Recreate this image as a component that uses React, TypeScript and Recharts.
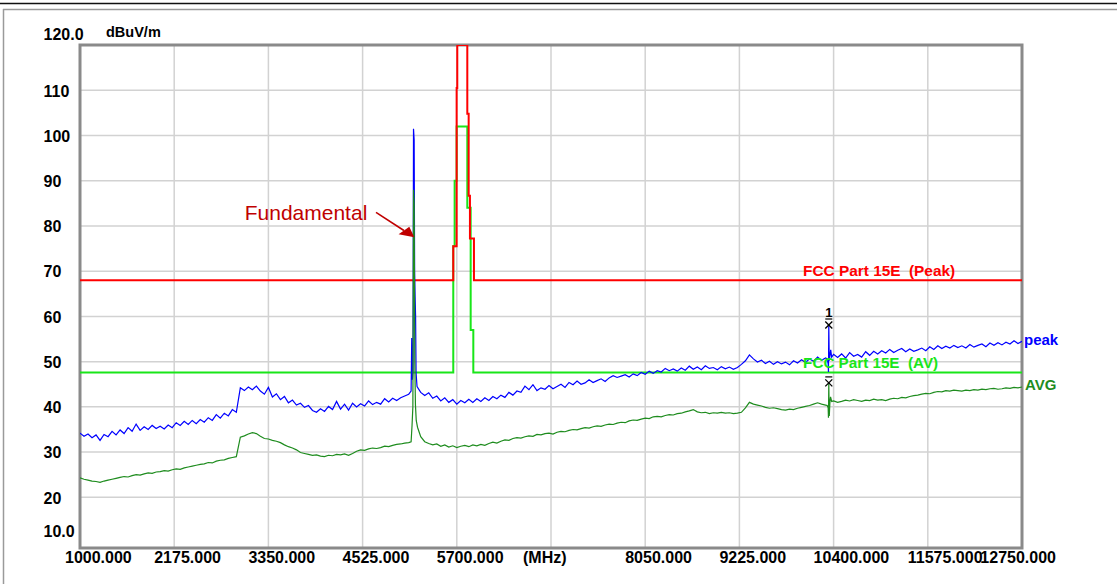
import React from 'react';
import { LineChart, Line, XAxis, YAxis, CartesianGrid, ReferenceArea, ReferenceDot } from 'recharts';

// ---------- data ----------
const FREQ_START = 1000; // MHz
const FREQ_STEP = 50; // MHz between trace samples
const X_MIN = 1000;
const X_MAX = 12750;
const Y_MIN = 8.8;
const Y_MAX = 120;

const X_TICKS = [1000, 2175, 3350, 4525, 5700, 6875, 8050, 9225, 10400, 11575, 12750];
const X_TICK_LABELS = ['1000.000', '2175.000', '3350.000', '4525.000', '5700.000', '(MHz)', '8050.000', '9225.000', '10400.000', '11575.000', '12750.000'];
const Y_TICKS = [10, 20, 30, 40, 50, 60, 70, 80, 90, 100, 110, 120];
const Y_TICK_LABELS = ['10.0', '20', '30', '40', '50', '60', '70', '80', '90', '100', '110', '120.0'];
const Y_UNIT = 'dBuV/m';

// peak detector trace, one value per 50 MHz from 1000 MHz
const PEAK_VALUES = [
  34.2, 33.5, 34.0, 33.2, 33.8, 32.6, 33.9, 33.4, 34.6, 33.8,
  34.9, 34.1, 35.4, 34.6, 36.2, 34.8, 35.6, 35.0, 35.9, 35.2,
  35.7, 35.1, 36.0, 35.4, 36.5, 35.9, 36.8, 36.1, 37.0, 36.3,
  37.2, 36.6, 37.6, 37.0, 38.3, 37.5, 38.6, 38.0, 39.4, 38.8,
  44.2, 43.6, 44.4, 43.8, 44.6, 43.5, 42.8, 44.3, 42.2, 42.9,
  41.6, 42.3, 40.9, 41.5, 40.4, 40.8, 39.9, 40.3, 39.2, 38.8,
  39.6, 39.0, 40.1, 39.4, 41.2, 39.5, 40.6, 39.3, 40.8, 40.0,
  40.7, 40.2, 41.3, 40.5, 41.0, 40.6, 41.8, 41.1, 41.9, 41.4,
  42.0, 42.4, 42.8, 43.5, 44.0, 43.2, 42.5, 43.1, 41.9, 42.4,
  41.3, 42.0, 41.0, 41.6, 40.6, 41.4, 40.9, 41.7, 41.0, 41.8,
  41.2, 42.0, 41.4, 42.3, 41.8, 42.6, 42.1, 43.2, 42.6, 43.5,
  43.2, 44.6, 43.8, 44.9, 43.6, 44.2, 43.9, 44.7, 44.0, 44.5,
  45.0, 44.3, 45.4, 44.9, 45.7, 45.0, 45.3, 46.0, 45.4, 45.8,
  46.2, 45.6, 46.4, 46.9, 46.5, 46.8, 47.1, 46.6, 47.3, 46.9,
  47.6, 47.2, 47.9, 47.4, 48.0, 47.7, 48.5, 48.0, 48.4, 47.9,
  48.6, 48.1, 49.0, 48.3, 48.8, 48.2, 49.1, 48.5, 48.7, 48.2,
  48.9, 48.4, 48.8, 48.3, 48.7, 49.4, 50.2, 51.5, 50.6, 49.9,
  50.3, 49.6, 50.1, 49.4, 50.0, 49.5, 49.9, 49.3, 50.2, 49.7,
  50.4, 49.8, 50.6, 50.1, 51.0, 50.3, 50.8, 51.2, 51.6, 50.9,
  51.7, 50.8, 52.0, 51.2, 51.6, 51.0, 52.2, 51.4, 52.3, 51.7,
  52.4, 51.9, 52.7, 52.0, 52.5, 52.9, 52.2, 52.8, 52.3, 52.6,
  53.0, 52.4, 53.3, 52.7, 53.5, 52.9, 53.4, 53.0, 53.6, 53.1,
  53.5, 53.0, 53.8, 53.2, 53.6, 53.9, 53.3, 54.1, 53.6, 54.2,
  53.7, 54.3, 53.9, 54.6, 54.0, 54.5,
];

// average detector trace, one value per 50 MHz from 1000 MHz
const AVG_VALUES = [
  24.3, 24.0, 23.8, 23.6, 23.5, 23.3, 23.6, 23.8, 24.0, 24.2,
  24.4, 24.6, 24.5, 24.8, 25.0, 24.9, 25.2, 25.4, 25.3, 25.6,
  25.7, 25.9, 25.8, 26.1, 26.3, 26.2, 26.5, 26.7, 26.9, 27.1,
  27.3, 27.4, 27.7, 27.6, 28.0, 28.2, 28.3, 28.6, 28.8, 29.0,
  33.3, 33.6, 34.0, 34.3, 34.1, 33.5, 33.0, 32.9, 32.6, 32.4,
  32.1, 31.6, 31.2, 30.9, 30.5, 29.9, 29.7, 29.5, 29.3, 29.4,
  29.1, 29.0, 29.3, 29.2, 29.5, 29.4, 29.6, 29.3, 29.7, 30.2,
  30.5, 30.4, 30.7, 30.9, 30.8, 31.0, 31.3, 31.2, 31.5, 31.7,
  31.8, 32.0, 32.1, 33.0, 36.0, 33.4, 32.3, 31.9, 31.6, 31.8,
  31.3, 31.6, 31.1, 31.4, 31.0, 31.3, 31.5, 31.2, 31.6, 31.4,
  31.7, 31.5, 31.9, 32.2, 32.0, 32.4, 32.7, 32.6, 33.0, 33.2,
  33.1, 33.4, 33.6, 33.5, 33.9, 33.8, 34.1, 34.2, 34.0, 34.4,
  34.6, 34.5, 34.8, 35.0, 34.9, 35.2, 35.4, 35.3, 35.6, 35.8,
  35.7, 36.0, 36.2, 36.1, 36.4, 36.6, 36.5, 36.9, 37.1, 37.0,
  37.3, 37.5, 37.4, 37.8, 37.9, 37.8, 38.1, 38.3, 38.2, 38.5,
  38.6, 38.9, 39.1, 39.4, 38.9, 38.7, 38.8, 38.5, 38.7, 38.6,
  38.8, 38.6, 38.7, 38.5, 38.6, 38.8, 39.8, 41.0, 40.6, 40.4,
  40.2, 39.9, 39.7, 39.8, 39.6, 39.4, 39.3, 39.5, 39.4, 39.7,
  39.9, 40.1, 40.3, 40.6, 40.9, 40.6, 40.4, 40.3, 41.3, 41.0,
  41.2, 41.5, 41.3, 41.6, 41.4, 41.2, 41.5, 41.4, 41.7, 41.5,
  41.6, 41.4, 41.7, 41.9, 41.8, 42.1, 42.0, 42.3, 42.5, 42.6,
  42.8, 43.0, 42.9, 43.2, 43.4, 43.3, 43.6, 43.5, 43.7, 43.6,
  43.5, 43.7, 43.6, 43.8, 43.7, 43.9, 43.8, 44.0, 44.1, 43.9,
  44.0, 44.2, 44.1, 44.3, 44.2, 44.4,
];

// fine-resolution detail around the fundamental and its 2nd harmonic  [MHz, dBuV/m]
const PEAK_FUNDAMENTAL: [number, number][] = [
  [5130, 43.5], [5138, 55.2], [5146, 46.0], [5154, 48.0], [5160, 101.5], [5168, 99.0],
  [5174, 70.0], [5180, 64.3], [5186, 60.0], [5192, 47.5], [5204, 44.5],
];
const AVG_FUNDAMENTAL: [number, number][] = [
  [5130, 32.3], [5142, 36.0], [5152, 40.0], [5160, 88.0], [5168, 85.0],
  [5176, 50.0], [5184, 40.5], [5194, 37.0], [5210, 35.5],
];
const PEAK_HARMONIC: [number, number][] = [
  [10320, 50.6], [10332, 49.5], [10336, 47.7], [10340, 58.1], [10346, 50.2],
  [10356, 51.5], [10364, 52.6], [10376, 51.0],
];
const AVG_HARMONIC: [number, number][] = [
  [10320, 40.3], [10332, 39.8], [10336, 37.6], [10340, 45.3], [10346, 38.0],
  [10354, 41.0], [10362, 42.2], [10376, 41.2],
];

// limit lines  [MHz, dBuV/m]
const LIMIT_PEAK: [number, number][] = [
  [1000, 68], [5656, 68], [5656, 75.5], [5698, 75.5], [5698, 110.5], [5706, 110.5], [5706, 120],
  [5831, 120], [5831, 104.8], [5848, 104.8], [5848, 86.7], [5864, 86.7], [5864, 77.2],
  [5914, 77.2], [5914, 68], [12750, 68],
];
const LIMIT_AV: [number, number][] = [
  [1000, 47.6], [5656, 47.6], [5656, 75.5], [5673, 75.5], [5673, 90], [5698, 90], [5698, 102],
  [5831, 102], [5831, 84], [5873, 84], [5873, 57], [5906, 57], [5906, 47.6], [12750, 47.6],
];

const LIMIT_PEAK_LABEL = 'FCC Part 15E  (Peak)';
const LIMIT_AV_LABEL = 'FCC Part 15E  (AV)';
const FUNDAMENTAL = { f: 5170, v: 77.5, label: 'Fundamental' };
const MARKERS = [
  { id: '1', f: 10340, v: 58.1 },
  { id: '', f: 10340, v: 45.3 },
];
const LABEL_FREQ = 10020;

// ---------- helpers ----------
type Pt = { f: number; v: number };

function buildTrace(values: number[], details: [number, number][][]): Pt[] {
  let pts: Pt[] = values.map((v, i) => ({ f: FREQ_START + i * FREQ_STEP, v }));
  for (const d of details) {
    const lo = d[0][0];
    const hi = d[d.length - 1][0];
    pts = pts.filter((p) => p.f < lo || p.f > hi).concat(d.map(([f, v]) => ({ f, v })));
  }
  return pts.sort((a, b) => a.f - b.f);
}
const toPts = (arr: [number, number][]): Pt[] => arr.map(([f, v]) => ({ f, v }));

const peakData = buildTrace(PEAK_VALUES, [PEAK_FUNDAMENTAL, PEAK_HARMONIC]);
const avgData = buildTrace(AVG_VALUES, [AVG_FUNDAMENTAL, AVG_HARMONIC]);
const limitPeakData = toPts(LIMIT_PEAK);
const limitAvData = toPts(LIMIT_AV);

const FONT = '"Liberation Sans", Arial, sans-serif';
const C_BLUE = '#0000ff';
const C_AVG = '#1e8c1e';
const C_RED = '#ff0000';
const C_LIME = '#19e619';
const C_DARKRED = '#c00000';

const XTick = (props: any) => {
  const { x, payload, index } = props;
  const i = X_TICKS.indexOf(payload.value);
  const label = X_TICK_LABELS[i >= 0 ? i : index];
  let anchor: 'start' | 'end' = 'start';
  let tx = x - 20;
  if (i === 0) tx = x - 15;
  if (label === '(MHz)') tx = x - 28;
  if (i === X_TICKS.length - 1) {
    anchor = 'end';
    tx = x + 34;
  }
  return (
    <text x={tx} y={563} textAnchor={anchor} fontFamily={FONT} fontSize={16} fontWeight="bold" fill="#000">
      {label}
    </text>
  );
};

const YTick = (props: any) => {
  const { y, payload } = props;
  const i = Y_TICKS.indexOf(payload.value);
  const label = Y_TICK_LABELS[i];
  const isEnd = i === 0 || i === Y_TICKS.length - 1;
  const base = isEnd ? y - 11 + 5.5 : y + 0.8 + 5.5;
  return (
    <g>
      <text x={43.5} y={base} textAnchor="start" fontFamily={FONT} fontSize={16} fontWeight="bold" fill="#000">
        {label}
      </text>
      {i === Y_TICKS.length - 1 && (
        <text x={106} y={y - 8.5} textAnchor="start" fontFamily={FONT} fontSize={14.5} fontWeight="bold" fill="#000">
          {Y_UNIT}
        </text>
      )}
    </g>
  );
};

const textShape = (label: string, dx: number, dy: number, fill: string, size: number, len?: number) => (p: any) => (
  <text
    x={p.cx + dx}
    y={p.cy + dy}
    fill={fill}
    fontFamily={FONT}
    fontSize={size}
    fontWeight="bold"
    style={{ whiteSpace: 'pre' }}
    textLength={len}
    lengthAdjust={len ? 'spacingAndGlyphs' : undefined}
  >
    {label}
  </text>
);

const markerShape = (id: string) => (p: any) => {
  const { cx, cy } = p;
  return (
    <g>
      <line x1={cx - 3.5} y1={cy - 3.5} x2={cx + 3.5} y2={cy + 3.5} stroke="#000" strokeWidth={1.3} />
      <line x1={cx - 3.5} y1={cy + 3.5} x2={cx + 3.5} y2={cy - 3.5} stroke="#000" strokeWidth={1.3} />
      <line x1={cx - 3.5} y1={cy - 6} x2={cx + 3.5} y2={cy - 6} stroke="#000" strokeWidth={1.2} />
      {id && (
        <text x={cx} y={cy - 8} textAnchor="middle" fontFamily={FONT} fontSize={13} fontWeight="bold" fill="#000">
          {id}
        </text>
      )}
    </g>
  );
};

const fundamentalShape = (p: any) => {
  const { cx, cy } = p;
  return (
    <g>
      <text x={cx - 47} y={cy - 17.5} textAnchor="end" fontFamily={FONT} fontSize={21} fill={C_DARKRED}>
        {FUNDAMENTAL.label}
      </text>
      <line x1={cx - 38.3} y1={cy - 24.9} x2={cx - 10.4} y2={cy - 6.7} stroke={C_DARKRED} strokeWidth={1.6} />
      <polygon points={`${cx},${cy} ${cx - 15.7},${cy - 2.9} ${cx - 5},${cy - 10.5}`} fill={C_DARKRED} />
    </g>
  );
};

export default function App() {
  return (
    <div style={{ position: 'absolute', left: 0, top: 0, width: 1117, height: 584, background: '#fff' }}>
      <svg width={1117} height={584} style={{ position: 'absolute', left: 0, top: 0 }}>
        <line x1={0} y1={3.5} x2={1117} y2={3.5} stroke="#111" strokeWidth={1.5} />
        <line x1={3} y1={9.5} x2={1117} y2={9.5} stroke="#9a9a9a" strokeWidth={1.5} />
        <line x1={3.5} y1={9} x2={3.5} y2={584} stroke="#9a9a9a" strokeWidth={1.5} />
      </svg>
      <div style={{ position: 'absolute', left: 0, top: 0 }}>
        <LineChart width={1117} height={584} margin={{ top: 45, right: 95, bottom: 0, left: 0 }}>
          <CartesianGrid
            stroke="#d2d2d2"
            strokeWidth={1.5}
            horizontalValues={[20, 30, 40, 50, 60, 70, 80, 90, 100, 110]}
            verticalValues={X_TICKS.slice(1, -1)}
          />
          <XAxis
            type="number"
            dataKey="f"
            domain={[X_MIN, X_MAX]}
            ticks={X_TICKS}
            interval={0}
            allowDataOverflow
            height={36}
            axisLine={false}
            tickLine={false}
            tick={<XTick />}
          />
          <YAxis
            type="number"
            domain={[Y_MIN, Y_MAX]}
            ticks={Y_TICKS}
            interval={0}
            allowDataOverflow
            width={80}
            axisLine={false}
            tickLine={false}
            tick={<YTick />}
          />
          <ReferenceArea x1={X_MIN} x2={X_MAX} y1={Y_MIN} y2={Y_MAX} fill="none" fillOpacity={0} stroke="#8a8a8a" strokeWidth={3} />
          <Line data={limitAvData} dataKey="v" type="linear" stroke={C_LIME} strokeWidth={2} dot={false} isAnimationActive={false} />
          <Line data={limitPeakData} dataKey="v" type="linear" stroke={C_RED} strokeWidth={2} dot={false} isAnimationActive={false} />
          <Line data={peakData} dataKey="v" type="linear" stroke={C_BLUE} strokeWidth={1.2} dot={false} isAnimationActive={false} />
          <Line data={avgData} dataKey="v" type="linear" stroke={C_AVG} strokeWidth={1.2} dot={false} isAnimationActive={false} />
          <ReferenceDot x={LABEL_FREQ} y={68} r={0} shape={textShape(LIMIT_PEAK_LABEL, 0, -4, C_RED, 15, 152)} />
          <ReferenceDot x={LABEL_FREQ} y={47.6} r={0} shape={textShape(LIMIT_AV_LABEL, 0, -4, C_LIME, 15, 135)} />
          <ReferenceDot x={X_MAX} y={PEAK_VALUES[PEAK_VALUES.length - 1]} r={0} shape={textShape('peak', 2, 4, C_BLUE, 15)} />
          <ReferenceDot x={X_MAX} y={AVG_VALUES[AVG_VALUES.length - 1]} r={0} shape={textShape('AVG', 3, 3.5, C_AVG, 15)} />
          {MARKERS.map((m, k) => (
            <ReferenceDot key={k} x={m.f} y={m.v} r={0} shape={markerShape(m.id)} />
          ))}
          <ReferenceDot x={FUNDAMENTAL.f} y={FUNDAMENTAL.v} r={0} shape={fundamentalShape} />
        </LineChart>
      </div>
    </div>
  );
}
